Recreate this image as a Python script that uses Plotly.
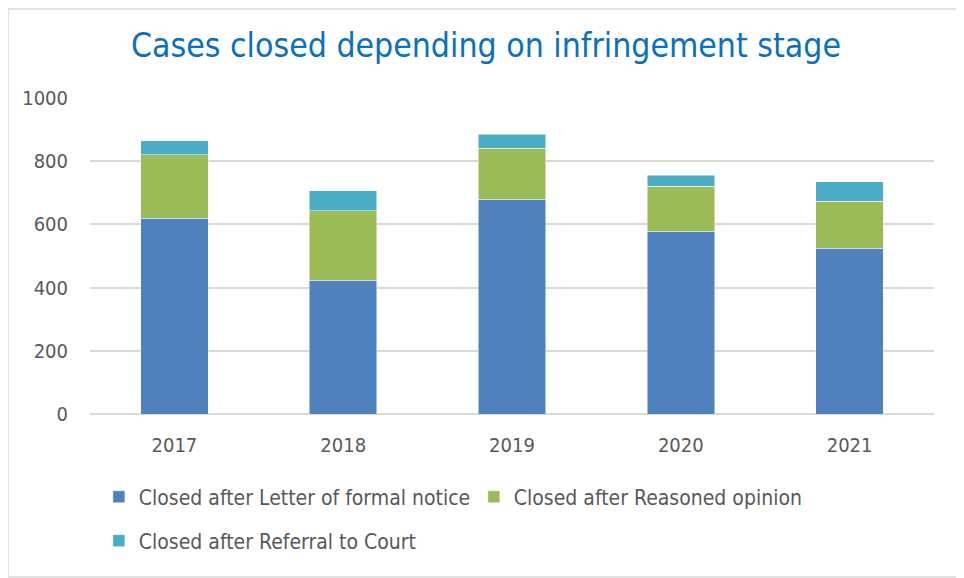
import plotly.graph_objects as go

years = ["2017", "2018", "2019", "2020", "2021"]
letter_formal_notice = [619, 424, 679, 578, 525]
reasoned_opinion = [201, 219, 162, 143, 149]
referral_to_court = [44, 64, 44, 35, 61]

series_names = ["Closed after Letter of formal notice",
                "Closed after Reasoned opinion",
                "Closed after Referral to Court"]
colors = ["#4F81BD", "#9BBB59", "#4BACC6"]

FONT = "DejaVu Sans Condensed, DejaVu Sans, sans-serif"

fig = go.Figure()
for name, vals, col, leg in zip(series_names,
                                [letter_formal_notice, reasoned_opinion, referral_to_court],
                                colors, ["legend", "legend", "legend2"]):
    fig.add_trace(go.Bar(x=years, y=vals, name=name, legend=leg,
                         marker=dict(color=col, line=dict(color="rgba(255,255,255,0.6)", width=0.8))))

fig.update_layout(
    barmode="stack",
    bargap=0.6,
    width=956, height=570,
    paper_bgcolor="white", plot_bgcolor="white",
    margin=dict(l=82, r=30, t=90, b=164, autoexpand=False),
    title=dict(text="Cases closed depending on infringement stage",
               x=0.5, xanchor="center", y=0.935, yanchor="middle",
               font=dict(family=FONT, size=33.5, color="#0B70C0")),
    font=dict(family=FONT, size=20, color="#595959"),
    xaxis=dict(showgrid=False, showline=False, ticks="outside", ticklen=13, tickcolor="white",
               tickfont=dict(size=20, color="#595959")),
    yaxis=dict(range=[0, 1000], dtick=200, showgrid=True, gridcolor="#D9D9D9", gridwidth=1.5,
               zeroline=True, zerolinecolor="#D9D9D9", zerolinewidth=1.5,
               ticks="outside", ticklen=17, tickcolor="white",
               tickfont=dict(size=20, color="#595959")),
    legend=dict(orientation="h", x=0.0105, xanchor="left", y=-0.263, yanchor="middle",
                traceorder="normal",
                font=dict(size=21, color="#595959"), entrywidth=330, entrywidthmode="pixels",
                bgcolor="rgba(0,0,0,0)"),
    legend2=dict(orientation="h", x=0.0105, xanchor="left", y=-0.402, yanchor="middle",
                 font=dict(size=21, color="#595959"), bgcolor="rgba(0,0,0,0)"),
    showlegend=True,
)

fig.add_shape(type="rect", xref="paper", yref="paper",
              x0=-82/844, x1=1 + 28/844, y0=-163/316, y1=1 + 89/316,
              line=dict(color="#D9D9D9", width=1.5), fillcolor="rgba(0,0,0,0)", layer="below")

fig.write_html("out.html")
